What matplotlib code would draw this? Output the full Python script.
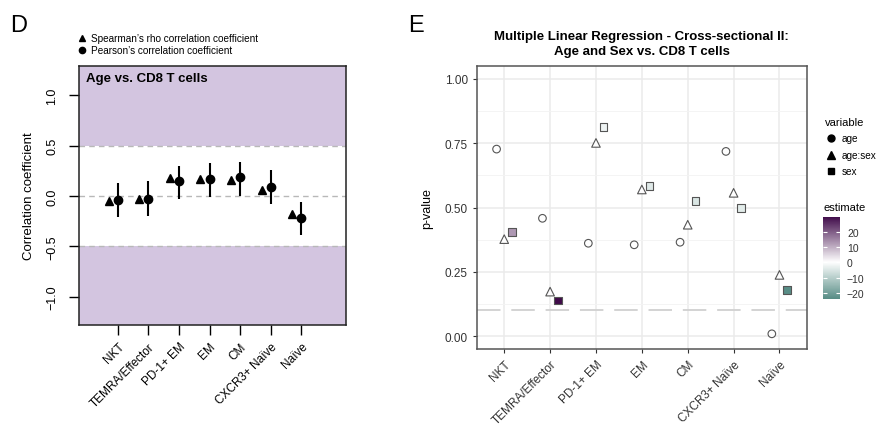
import numpy as np
import matplotlib
matplotlib.use("Agg")
import matplotlib.pyplot as plt
from matplotlib.colors import LinearSegmentedColormap, Normalize
from matplotlib.lines import Line2D

plt.rcParams['font.family'] = ['Liberation Sans', 'DejaVu Sans']

cells = ['NKT', 'TEMRA/Effector', 'PD-1+ EM', 'EM', 'CM', 'CXCR3+ Naïve', 'Naïve']

# panel D: correlations of age with CD8 T cell subsets
spearman = [-0.045, -0.03, 0.18, 0.165, 0.155, 0.063, -0.18]
pearson = [-0.037, -0.025, 0.145, 0.17, 0.185, 0.094, -0.22]
pearson_lo = [-0.21, -0.20, -0.03, -0.01, 0.005, -0.08, -0.385]
pearson_hi = [0.13, 0.145, 0.30, 0.325, 0.34, 0.255, -0.06]

# panel E: multiple linear regression p-values and estimates
p_age = [0.727, 0.458, 0.361, 0.355, 0.365, 0.718, 0.009]
p_agesex = [0.377, 0.173, 0.751, 0.570, 0.433, 0.557, 0.238]
p_sex = [0.405, 0.139, 0.813, 0.583, 0.525, 0.497, 0.179]
est_age = [0.1, -0.2, 0.1, 0.05, 0.1, -0.1, -0.3]
est_agesex = [0.2, 0.4, -0.1, 0.3, -0.2, 0.1, -0.4]
est_sex = [12.5, 29.8, -2.5, -4.5, -5.5, -4.0, -23.9]

fig = plt.figure(figsize=(8.81, 4.31), dpi=100)
W, H = 881, 431

def fbox(x0, y0, x1, y1):
    return [x0 / W, 1 - y1 / H, (x1 - x0) / W, (y1 - y0) / H]

# ---------------- panel D ----------------
ax1 = fig.add_axes(fbox(79, 67, 346, 326))
x = np.arange(1, len(cells) + 1)
lav = '#d3c5e0'
ax1.axhspan(0.5, 2, color=lav, lw=0, zorder=0)
ax1.axhspan(-2, -0.5, color=lav, lw=0, zorder=0)
for yv in [0.5, 0.0, -0.5]:
    ax1.axhline(yv, color='#b8b8b8', lw=1, dashes=(4, 3), zorder=1)
ax1.vlines(x, pearson_lo, pearson_hi, color='black', lw=1.5, zorder=2)
ax1.plot(x - 0.3, spearman, ls='', marker='^', color='black', ms=6, zorder=3)
ax1.plot(x, pearson, ls='', marker='o', color='black', ms=6, zorder=3)
ax1.set_xlim(-0.27, 8.46)
ax1.set_ylim(-1.28, 1.29)
ax1.set_yticks([1.0, 0.5, 0.0, -0.5, -1.0])
ax1.set_yticklabels(['1.0', '0.5', '0.0', '\u22120.5', '\u22121.0'], rotation=90, va='center')
ax1.set_xticks(x)
ax1.set_xticklabels(cells, rotation=45, ha='right', rotation_mode='anchor')
ax1.tick_params(axis='both', direction='out', length=7, width=1, labelsize=9, colors='black')
ax1.tick_params(axis='x', labelsize=8.5, pad=4)
ax1.tick_params(axis='y', pad=8)
for s in ax1.spines.values():
    s.set_linewidth(1.1)
    s.set_color('#222222')
ax1.set_ylabel('Correlation coefficient', fontsize=9.5, labelpad=8)
ax1.text(0.026, 0.975, 'Age vs. CD8 T cells', transform=ax1.transAxes,
         fontsize=9.5, fontweight='bold', va='top', ha='left')
leg1 = ax1.legend(handles=[Line2D([], [], ls='', marker='^', color='black', ms=5),
                           Line2D([], [], ls='', marker='o', color='black', ms=4.5)],
                  labels=['Spearman\u2019s rho correlation coefficient', 'Pearson\u2019s correlation coefficient'],
                  loc='upper left', bbox_to_anchor=(77 / W, 1 - 34 / H), bbox_transform=fig.transFigure,
                  frameon=False, fontsize=7.2, handlelength=1.0, handletextpad=0.4,
                  labelspacing=0.25, borderpad=0, borderaxespad=0)
fig.text(10 / W, 1 - 32 / H, 'D', fontsize=17, va='baseline')

# ---------------- panel E ----------------
ax2 = fig.add_axes(fbox(476.7, 67, 807, 350))
low, high = '#2f7168', '#3f0a49'
cmap = LinearSegmentedColormap.from_list('est', [low, 'white', high])
all_est = est_age + est_agesex + est_sex
vmax = max(abs(min(all_est)), abs(max(all_est)))
norm = Normalize(-vmax, vmax)

ax2.set_facecolor('white')
ax2.set_axisbelow(True)
ax2.grid(True, which='major', color='#ebebeb', lw=1.1)
ax2.set_yticks(np.arange(0.125, 1.0, 0.25), minor=True)
ax2.grid(True, which='minor', axis='y', color='#f3f3f3', lw=0.6)
ax2.axhline(0.1, color='#d0d0d0', lw=1.3, dashes=(13, 6), zorder=1)

off = 1 / 6
edge = '#555555'
ax2.scatter(x - off, p_age, marker='o', s=30, c=est_age, cmap=cmap, norm=norm,
            edgecolors=edge, linewidths=0.8, zorder=3)
ax2.scatter(x, p_agesex, marker='^', s=38, c=est_agesex, cmap=cmap, norm=norm,
            edgecolors=edge, linewidths=0.8, zorder=3)
ax2.scatter(x + off, p_sex, marker='s', s=30, c=est_sex, cmap=cmap, norm=norm,
            edgecolors=edge, linewidths=0.8, zorder=3)
ax2.set_xlim(0.4, 7.6)
ax2.set_ylim(-0.05, 1.05)
ax2.set_yticks([0.0, 0.25, 0.5, 0.75, 1.0])
ax2.set_yticklabels(['0.00', '0.25', '0.50', '0.75', '1.00'])
ax2.set_xticks(x)
ax2.set_xticklabels(cells, rotation=45, ha='right', rotation_mode='anchor')
ax2.tick_params(axis='both', which='major', direction='out', length=3, width=0.8,
                color='#333333', labelcolor='#333333', labelsize=8.5)
ax2.tick_params(axis='y', which='minor', length=0)
for s in ax2.spines.values():
    s.set_linewidth(1.1)
    s.set_color('#555555')
ax2.set_ylabel('p-value', fontsize=9, labelpad=8)
ax2.set_title('Multiple Linear Regression - Cross-sectional II:\nAge and Sex vs. CD8 T cells',
              fontsize=9.5, fontweight='bold', pad=9, linespacing=1.3)
fig.text(408 / W, 1 - 32 / H, 'E', fontsize=17, va='baseline')

leg2 = fig.legend(handles=[Line2D([], [], ls='', marker='o', color='black', ms=5),
                           Line2D([], [], ls='', marker='^', color='black', ms=5.5),
                           Line2D([], [], ls='', marker='s', color='black', ms=5)],
                  labels=['age', 'age:sex', 'sex'], title='variable',
                  loc='upper left', bbox_to_anchor=(820 / W, 1 - 113 / H),
                  frameon=False, fontsize=7.2, title_fontsize=8, handlelength=1.2,
                  handletextpad=0.5, labelspacing=0.65, borderpad=0, alignment='left')

# colour bar for estimate
cax = fig.add_axes(fbox(823, 217.7, 840, 300))
lo, hi = min(all_est), max(all_est)
grad = np.linspace(lo, hi, 256)[:, None]
cax.imshow(grad, cmap=cmap, norm=norm, origin='lower', aspect='auto', extent=[0, 1, lo, hi])
cax.set_xticks([])
cax.set_yticks([-20, -10, 0, 10, 20])
cax.yaxis.tick_right()
cax.tick_params(axis='y', which='both', left=True, right=True, direction='in', length=3,
                color='white', width=0.8, labelsize=7.5, labelcolor='#333333', pad=5)
for s in cax.spines.values():
    s.set_visible(False)
fig.text(823 / W, 1 - 208 / H, 'estimate', fontsize=8, va='center')

fig.savefig('out.png', dpi=100)
